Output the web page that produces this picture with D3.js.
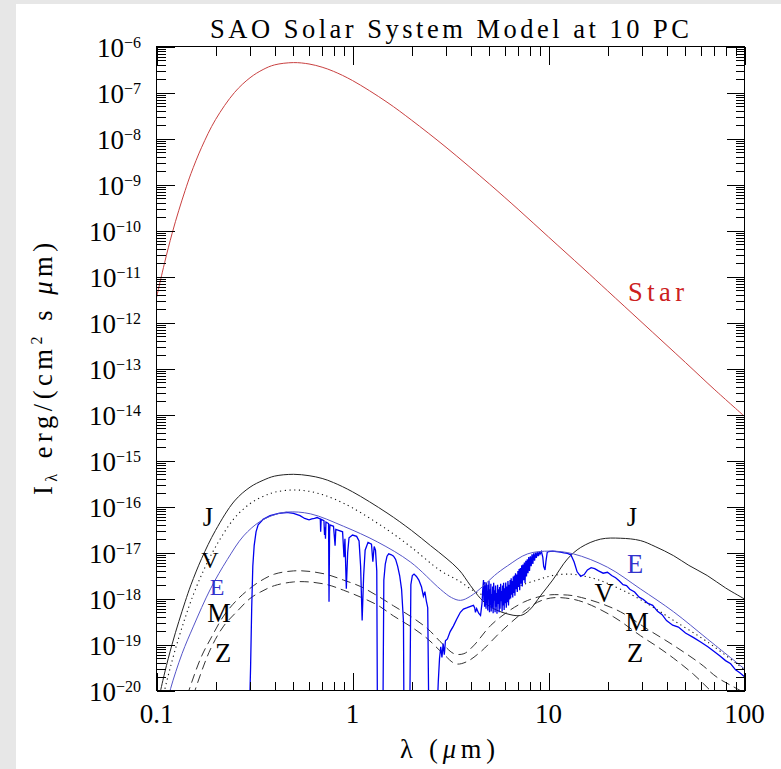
<!DOCTYPE html>
<html><head><meta charset="utf-8">
<script src="https://cdn.jsdelivr.net/npm/d3@7"></script>
<style>body{margin:0;background:#fff;overflow:hidden} text{font-family:"Liberation Serif","Times New Roman",serif;}</style>
</head><body>
<svg id="c" width="781" height="769"></svg>
<script>
// ---------- data (wavelength in micron, log10 of I_lambda) ----------
const xTickValues = [0.1, 1, 10, 100];
const xTickLabels = ["0.1", "1", "10", "100"];
const yTickExponents = [-6,-7,-8,-9,-10,-11,-12,-13,-14,-15,-16,-17,-18,-19,-20];

const starSpectrum = [[0.1,-11.46],[0.11,-10.70],[0.12,-10.07],[0.13,-9.56],[0.14,-9.13],[0.15,-8.76],[0.17,-8.19],[0.2,-7.59],[0.25,-7.00],[0.3,-6.68],[0.35,-6.50],[0.4,-6.40],[0.5,-6.35],[0.6,-6.38],[0.7,-6.45],[0.8,-6.54],[1.0,-6.74],[1.5,-7.21],[2,-7.60],[3,-8.19],[5,-8.99],[7,-9.54],[10,-10.14],[15,-10.82],[20,-11.31],[30,-12.0],[50,-12.87],[70,-13.45],[100,-14.04]];

const jupiterSpectrum = [[0.1,-20.40],[0.11,-19.62],[0.12,-19.00],[0.13,-18.50],[0.14,-18.07],[0.15,-17.70],[0.17,-17.13],[0.2,-16.52],[0.25,-15.88],[0.3,-15.58],[0.35,-15.43],[0.4,-15.34],[0.5,-15.30],[0.6,-15.33],[0.7,-15.39],[0.8,-15.48],[1.0,-15.68],[1.5,-16.14],[2.0,-16.52],[2.5,-16.85],[3.0,-17.12],[3.5,-17.38],[4.0,-17.72],[4.5,-18.0],[5.0,-18.17],[6.0,-18.32],[7.2,-18.37],[8.0,-18.25],[9.1,-17.94],[10.5,-17.6],[12.5,-17.14],[14.6,-16.89],[18.4,-16.71],[23.3,-16.69],[29.4,-16.74],[35,-16.87],[43.5,-17.07],[52,-17.28],[64.5,-17.50],[80,-17.77],[100,-18.01]];

const venusSpectrum = [[0.1,-20.76],[0.11,-19.99],[0.12,-19.36],[0.13,-18.85],[0.14,-18.42],[0.15,-18.05],[0.17,-17.48],[0.2,-16.88],[0.25,-16.25],[0.3,-15.94],[0.35,-15.78],[0.4,-15.69],[0.5,-15.64],[0.6,-15.67],[0.7,-15.74],[0.8,-15.83],[1.0,-16.03],[1.5,-16.50],[2.0,-16.89],[2.8,-17.39],[3.5,-17.62],[4.14,-17.83],[4.64,-17.92],[5.3,-17.93],[6.13,-17.86],[7.2,-17.72],[8.73,-17.60],[10.5,-17.50],[12.9,-17.47],[15.5,-17.52],[18.4,-17.61],[25,-17.86],[33,-18.15],[43.6,-18.48],[64.5,-18.94],[100,-19.55]];

const earthModel = [[0.11,-20.5],[0.118,-19.96],[0.135,-19.2],[0.1545,-18.60],[0.1886,-17.79],[0.23,-17.15],[0.278,-16.64],[0.339,-16.32],[0.40,-16.18],[0.466,-16.12],[0.611,-16.16],[0.90,-16.43],[1.34,-16.77],[1.98,-17.21],[2.81,-17.80],[3.2,-17.98],[3.56,-18.04],[4.0,-17.95],[4.64,-17.73],[5.3,-17.5],[6.18,-17.29],[7.82,-17.03],[10.2,-16.97],[13.4,-17.03],[20,-17.32],[29.4,-17.79],[43.5,-18.29],[64.7,-18.88],[100,-19.53]];

const earthSpectrum = [[0.298,-20.5],[0.302,-19.5],[0.306,-18.2],[0.310,-17.3],[0.315,-16.85],[0.322,-16.55],[0.330,-16.40],[0.35,-16.28],[0.38,-16.20],[0.42,-16.15],[0.46,-16.13],[0.50,-16.15],[0.54,-16.20],[0.57,-16.26],[0.60,-16.29],[0.62,-16.27],[0.64,-16.26],[0.66,-16.24],[0.685,-16.27],[0.688,-16.55],[0.692,-16.28],[0.715,-16.31],[0.72,-16.62],[0.724,-16.45],[0.728,-16.70],[0.732,-16.34],[0.755,-16.37],[0.759,-18.07],[0.764,-16.55],[0.768,-16.40],[0.80,-16.43],[0.815,-16.85],[0.822,-16.50],[0.89,-16.55],[0.905,-17.1],[0.915,-16.7],[0.93,-17.79],[0.945,-17.0],[0.96,-16.68],[1.00,-16.62],[1.05,-16.65],[1.08,-16.75],[1.10,-17.3],[1.12,-18.48],[1.14,-17.5],[1.16,-16.95],[1.2,-16.78],[1.25,-16.82],[1.27,-17.2],[1.29,-16.87],[1.31,-16.95],[1.33,-17.4],[1.34,-20.5],[1.43,-20.5],[1.445,-17.6],[1.47,-17.25],[1.50,-17.08],[1.53,-17.03],[1.58,-17.05],[1.62,-17.08],[1.66,-17.15],[1.70,-17.3],[1.74,-17.5],[1.78,-17.8],[1.82,-18.5],[1.83,-20.5],[1.96,-20.5],[1.985,-17.7],[2.02,-17.5],[2.06,-17.47],[2.12,-17.52],[2.18,-17.6],[2.25,-17.75],[2.3,-17.95],[2.34,-17.85],[2.38,-18.05],[2.42,-18.2],[2.45,-20.5],[2.70,-20.5],[2.74,-19.8],[2.78,-19.3],[2.82,-19.05],[2.86,-19.28],[2.9,-18.98],[2.94,-19.22],[2.98,-18.92],[3.05,-18.88],[3.15,-18.72],[3.27,-18.6],[3.4,-18.45],[3.55,-18.3],[3.68,-18.23],[3.85,-18.2],[4.0,-18.17],[4.14,-18.15],[4.2,-18.2],[4.24,-18.30],[4.3,-18.22],[4.4,-18.32],[4.5,-18.37],[4.58,-18.1],[4.62,-17.8],
[4.66,-17.60],[4.68,-18.05],[4.70,-17.70],[4.72,-18.18],[4.74,-17.64],[4.76,-17.95],[4.78,-17.72],[4.80,-18.22],[4.83,-17.66],[4.85,-18.10],[4.87,-17.85],[4.90,-18.26],[4.92,-17.70],[4.94,-18.02],[4.97,-17.62],[5.00,-18.30],[5.02,-17.80],[5.05,-18.15],[5.08,-17.68],[5.10,-18.28],[5.13,-17.90],[5.16,-18.20],[5.19,-17.74],[5.22,-18.32],[5.25,-17.66],[5.28,-18.05],[5.31,-17.82],[5.34,-18.30],[5.37,-17.72],[5.40,-18.18],[5.43,-17.88],[5.46,-18.33],[5.50,-17.70],[5.53,-18.12],[5.56,-17.80],[5.60,-18.30],[5.63,-17.75],[5.66,-18.22],[5.70,-17.68],[5.73,-18.06],[5.76,-17.84],[5.80,-18.28],[5.83,-17.72],[5.87,-18.15],[5.90,-17.66],[5.94,-18.25],[5.97,-17.78],[6.01,-18.10],[6.05,-17.65],[6.09,-18.20],[6.13,-17.74],[6.17,-18.08],[6.21,-17.62],[6.25,-18.15],[6.29,-17.70],[6.33,-18.02],[6.37,-17.60],
[6.41,-18.00],[6.45,-17.56],[6.49,-17.92],[6.53,-17.62],[6.57,-17.98],[6.61,-17.52],[6.65,-17.88],[6.70,-17.50],[6.74,-17.94],[6.79,-17.45],[6.83,-17.80],[6.88,-17.48],[6.93,-17.86],[6.98,-17.40],[7.03,-17.75],[7.08,-17.36],[7.13,-17.82],[7.18,-17.34],[7.24,-17.68],[7.30,-17.28],[7.35,-17.74],[7.41,-17.26],[7.47,-17.60],[7.53,-17.22],[7.59,-17.66],[7.66,-17.18],[7.72,-17.52],[7.79,-17.15],[7.86,-17.45],[7.93,-17.10],[8.00,-17.40],[8.08,-17.08],[8.16,-17.30],[8.24,-17.04],[8.32,-17.25],[8.40,-17.02],[8.49,-17.18],[8.58,-17.00],[8.67,-17.12],[8.76,-16.99],[8.86,-17.08],[8.96,-16.98],[9.05,-17.04],[9.2,-16.98],[9.35,-17.1],[9.45,-17.3],[9.6,-17.38],[9.7,-17.2],[9.85,-17.0],[10.0,-16.98],[10.5,-16.97],[11,-16.98],[11.5,-16.99],[12.0,-17.01],[12.5,-17.02],[13.0,-17.05],[13.5,-17.2],[14.0,-17.42],[14.6,-17.52],[15.2,-17.48],[15.8,-17.38],[16.5,-17.33],[17.2,-17.35],[18.0,-17.40],[19,-17.45],[20,-17.43],[21,-17.50],[22,-17.55],[23,-17.62],[24,-17.70],[25,-17.72],[26,-17.80],[27.5,-17.86],[29,-17.97],[30.5,-18.02],[32,-18.10],[34,-18.15],[36,-18.28],[38,-18.35],[40,-18.48],[43,-18.58],[46,-18.62],[50,-18.75],[55,-18.85],[60,-18.95],[65,-19.05],[70,-19.15],[75,-19.25],[80,-19.35],[85,-19.42],[90,-19.55],[95,-19.62],[100,-19.70]];

const marsSpectrum = [[0.13,-20.7],[0.149,-19.90],[0.17,-19.25],[0.1886,-18.88],[0.22,-18.38],[0.259,-18.02],[0.30,-17.78],[0.339,-17.62],[0.40,-17.47],[0.50,-17.40],[0.60,-17.41],[0.744,-17.48],[0.90,-17.60],[1.10,-17.74],[1.35,-17.95],[1.62,-18.16],[2.0,-18.40],[2.42,-18.66],[2.9,-19.0],[3.3,-19.2],[3.7,-19.2],[4.14,-19.03],[5.06,-18.59],[6.18,-18.29],[7.47,-18.08],[8.8,-17.97],[10.2,-17.92],[11.8,-17.92],[13.4,-17.94],[17.7,-18.08],[23.3,-18.29],[31.8,-18.66],[43.5,-19.02],[59.7,-19.42],[72.8,-19.72],[87.9,-19.92],[100,-20.05]];

const zodiSpectrum = [[0.14,-20.7],[0.158,-19.97],[0.1886,-19.1],[0.22,-18.6],[0.259,-18.27],[0.30,-18.0],[0.339,-17.86],[0.40,-17.72],[0.50,-17.64],[0.60,-17.64],[0.744,-17.70],[0.90,-17.82],[1.10,-17.97],[1.35,-18.15],[1.62,-18.38],[2.0,-18.62],[2.42,-18.88],[2.9,-19.2],[3.36,-19.42],[3.8,-19.38],[4.5,-19.16],[5.69,-18.73],[7.47,-18.29],[8.8,-18.08],[10.25,-17.99],[12.2,-17.99],[15.1,-18.08],[21.5,-18.40],[29.5,-18.81],[36,-19.05],[43.5,-19.3],[55,-19.65],[67,-20.0],[80,-20.3]];

// [text, x, baseline y, colour, font size]
const curveLabelsLeft = [["J",208,526,"#000",26.5],["V",210,568,"#000",24],["E",217,595,"#3333cc",24],["M",219,622,"#000",26.5],["Z",223,662,"#000",26.5]];
const curveLabelsRight = [["J",632,526,"#000",26.5],["E",635,573,"#3333cc",26.5],["V",604,602,"#000",26.5],["M",637,631,"#000",26.5],["Z",635,662,"#000",26.5]];

// ---------- drawing ----------
const W = 781, H = 769;
const svg = d3.select("#c");
svg.append("rect").attr("width", W).attr("height", H).attr("fill", "#e7e7e7");
svg.append("rect").attr("x", 16).attr("y", 4).attr("width", W - 16).attr("height", H - 4).attr("fill", "#fff");

const x = d3.scaleLog().domain([0.1, 100]).range([156.5, 744.5]);
const y = d3.scaleLog().domain([1e-20, 1e-6]).range([690.5, 46.5]);

svg.append("clipPath").attr("id", "clip").append("rect")
  .attr("x", 156.5).attr("y", 46.5).attr("width", 588).attr("height", 644);

const P = v => Math.pow(10, v);
const smooth = d3.line().x(d => x(d[0])).y(d => y(P(d[1]))).curve(d3.curveCatmullRom.alpha(0.5));
const jag = d3.line().x(d => x(d[0])).y(d => y(P(d[1])));

const plot = svg.append("g").attr("clip-path", "url(#clip)");
plot.append("path").attr("d", smooth(starSpectrum)).attr("fill", "none").attr("stroke", "#c84040").attr("stroke-width", 1);
plot.append("path").attr("d", smooth(zodiSpectrum)).attr("fill", "none").attr("stroke", "#333").attr("stroke-width", 1).attr("stroke-dasharray", "9,5");
plot.append("path").attr("d", smooth(marsSpectrum)).attr("fill", "none").attr("stroke", "#333").attr("stroke-width", 1).attr("stroke-dasharray", "9,5");
plot.append("path").attr("d", smooth(venusSpectrum)).attr("fill", "none").attr("stroke", "#111").attr("stroke-width", 1.1).attr("stroke-dasharray", "1.2,3.5");
plot.append("path").attr("d", smooth(jupiterSpectrum)).attr("fill", "none").attr("stroke", "#222").attr("stroke-width", 1);
plot.append("path").attr("d", jag(earthSpectrum)).attr("fill", "none").attr("stroke", "#0000f0").attr("stroke-width", 1.3);
plot.append("path").attr("d", smooth(earthModel)).attr("fill", "none").attr("stroke", "#5555c8").attr("stroke-width", 1);

// axes (ticks on all four sides, pointing inward)
const yMinor = [];
for (let e = -20; e < -6; e++) for (let k = 2; k <= 9; k++) yMinor.push(k * Math.pow(10, e));
const yMajor = yTickExponents.map(e => Math.pow(10, e));
const xMinor = x.ticks().filter(v => !xTickValues.some(m => Math.abs(m - v) / m < 1e-6));

function axisG(axis, tx, ty) {
  const g = svg.append("g").attr("transform", `translate(${tx},${ty})`).call(axis);
  g.select(".domain").remove();
  g.selectAll("line").attr("stroke", "#000").attr("shape-rendering", "crispEdges");
  g.selectAll("text").remove();
}
axisG(d3.axisLeft(y).tickValues(yMajor).tickSize(-18).tickFormat(""), 156.5, 0);
axisG(d3.axisLeft(y).tickValues(yMinor).tickSize(-9).tickFormat(""), 156.5, 0);
axisG(d3.axisRight(y).tickValues(yMajor).tickSize(-18).tickFormat(""), 744.5, 0);
axisG(d3.axisRight(y).tickValues(yMinor).tickSize(-9).tickFormat(""), 744.5, 0);
axisG(d3.axisBottom(x).tickValues(xTickValues).tickSize(-18).tickFormat(""), 0, 690.5);
axisG(d3.axisBottom(x).tickValues(xMinor).tickSize(-9).tickFormat(""), 0, 690.5);
axisG(d3.axisTop(x).tickValues(xTickValues).tickSize(-18).tickFormat(""), 0, 46.5);
axisG(d3.axisTop(x).tickValues(xMinor).tickSize(-9).tickFormat(""), 0, 46.5);

svg.append("rect").attr("x", 156.5).attr("y", 46.5).attr("width", 588).attr("height", 644)
  .attr("fill", "none").attr("stroke", "#000").attr("stroke-width", 1).attr("shape-rendering", "crispEdges");

// y tick labels
yTickExponents.forEach(e => {
  const t = svg.append("text").attr("x", 141).attr("y", y(Math.pow(10, e)) + 10.5)
    .attr("text-anchor", "end").attr("font-size", 27).attr("fill", "#000");
  t.append("tspan").text("10");
  t.append("tspan").attr("dy", -9).attr("font-size", 16).text("\u2212" + Math.abs(e));
});
// x tick labels
xTickValues.forEach((v, i) => {
  svg.append("text").attr("x", x(v)).attr("y", 723).attr("text-anchor", "middle")
    .attr("font-size", 27).attr("fill", "#000").text(xTickLabels[i]);
});

// title
svg.append("text").attr("x", 449.5).attr("y", 38).attr("text-anchor", "middle").attr("font-size", 26.5)
  .attr("textLength", 479).attr("lengthAdjust", "spacing").text("SAO Solar System Model at 10 PC");

// x axis title
const xt = svg.append("text").attr("x", 447.5).attr("y", 758).attr("text-anchor", "middle").attr("font-size", 26.5)
  .attr("textLength", 95).attr("lengthAdjust", "spacing");
xt.append("tspan").text("\u03bb (");
xt.append("tspan").attr("font-style", "italic").text("\u03bc");
xt.append("tspan").text("m)");

// y axis title
const yt = svg.append("text").attr("transform", "translate(52,369) rotate(-90)").attr("text-anchor", "middle")
  .attr("font-size", 26.5).attr("textLength", 252).attr("lengthAdjust", "spacing");
yt.append("tspan").text("I");
yt.append("tspan").attr("font-size", 16).attr("dy", 5).text("\u03bb");
yt.append("tspan").attr("dy", -5).text(" erg/(cm");
yt.append("tspan").attr("font-size", 16).attr("dy", -10).text("2");
yt.append("tspan").attr("dy", 10).text(" s ");
yt.append("tspan").attr("font-style", "italic").text("\u03bc");
yt.append("tspan").text("m)");

// curve labels
svg.append("text").attr("x", 656).attr("y", 301).attr("text-anchor", "middle").attr("font-size", 26.5)
  .attr("fill", "#cc2020").attr("textLength", 56).attr("lengthAdjust", "spacing").text("Star");
curveLabelsLeft.concat(curveLabelsRight).forEach(d => {
  svg.append("text").attr("x", d[1]).attr("y", d[2]).attr("text-anchor", "middle")
    .attr("font-size", d[4]).attr("fill", d[3]).text(d[0]);
});
</script>
</body></html>
